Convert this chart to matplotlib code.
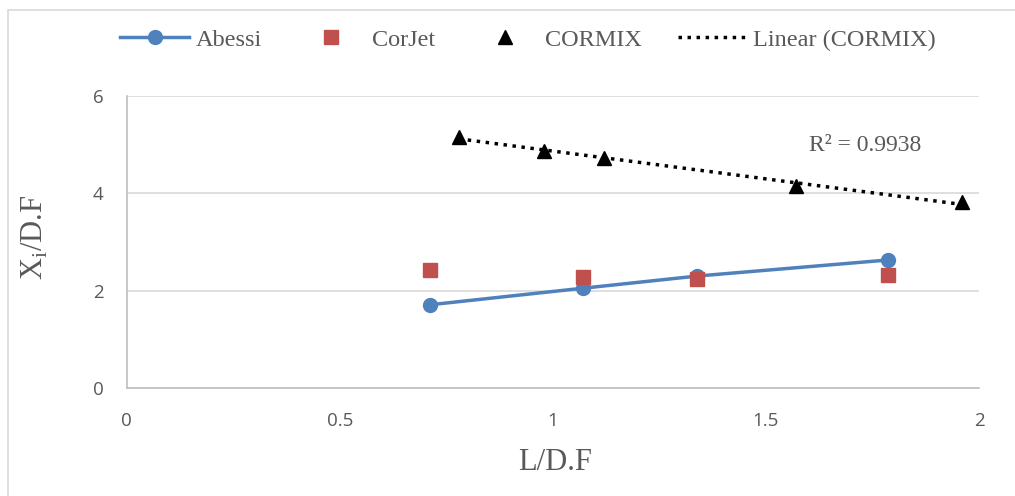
import numpy as np
import matplotlib.pyplot as plt
from matplotlib.lines import Line2D
from matplotlib.patches import Rectangle

# data
abessi_x = [0.711, 1.070, 1.338, 1.786]
abessi_y = [1.71, 2.05, 2.30, 2.63]
corjet_x = [0.711, 1.070, 1.338, 1.786]
corjet_y = [2.42, 2.28, 2.24, 2.32]
cormix_x = [0.779, 0.979, 1.120, 1.570, 1.960]
cormix_y = [5.16, 4.87, 4.73, 4.15, 3.82]
r2_text = "R² = 0.9938"

gray = "#595959"
serif = ["Liberation Serif", "DejaVu Serif"]

fig = plt.figure(figsize=(10.15, 4.96), dpi=100)
fig.patches.append(Rectangle((0.008, -0.02), 1.1, 1.0, transform=fig.transFigure,
                             fill=False, edgecolor="#d9d9d9", linewidth=1.2))
ax = fig.add_axes([0.125, 0.2177, 0.8395, 0.5888])

ax.plot(abessi_x, abessi_y, color="#4f81bd", linewidth=2.5, marker="o",
        markersize=10, zorder=3)
ax.plot(corjet_x, corjet_y, linestyle="none", marker="s", color="#c0504d",
        markersize=10, zorder=3)
ax.plot(cormix_x, cormix_y, linestyle="none", marker="^", color="black",
        markersize=10, zorder=4)

# linear trendline for CORMIX
k, b = np.polyfit(cormix_x, cormix_y, 1)
tx = np.array([min(cormix_x), max(cormix_x)])
ax.plot(tx, k * tx + b, color="black", linestyle=(0, (1, 1.6)), linewidth=2.5, zorder=2)
ax.text(1.60, 4.98, r2_text, fontsize=17, color=gray, family=serif, va="center")

ax.set_xlim(0, 2)
ax.set_ylim(0, 6)
ax.set_xticks([0, 0.5, 1, 1.5, 2])
ax.set_xticklabels(["0", "0.5", "1", "1.5", "2"])
ax.set_yticks([0, 2, 4, 6])
ax.grid(axis="y", color="#d9d9d9", linewidth=1.2)
ax.set_axisbelow(True)
for s in ["top", "right"]:
    ax.spines[s].set_visible(False)
for s in ["left", "bottom"]:
    ax.spines[s].set_color("#bfbfbf")
    ax.spines[s].set_linewidth(1.2)
ax.tick_params(length=0, labelsize=13.5, colors=gray, pad=17)
for lab in ax.get_xticklabels() + ax.get_yticklabels():
    lab.set_family(["Open Sans", "DejaVu Sans"])

fig.text(555 / 1015, 1 - 462 / 496, "L/D.F", fontsize=22, color=gray,
         family=serif, ha="center", va="center")
fig.text(35 / 1015, 1 - 237 / 496, "X$_\\mathregular{i}$/D.F", fontsize=22,
         color=gray, family=serif, ha="center", va="center", rotation=90)

handles = [
    Line2D([], [], color="#4f81bd", linewidth=2.5, marker="o", markersize=10),
    Line2D([], [], color="#c0504d", linestyle="none", marker="s", markersize=10),
    Line2D([], [], color="black", linestyle="none", marker="^", markersize=10),
    Line2D([], [], color="black", linestyle=(0, (1, 1.6)), linewidth=2.5),
]
fig.legend(handles, ["Abessi", "CorJet", "CORMIX", "Linear (CORMIX)"],
           loc="center", bbox_to_anchor=(0.52, 0.92), ncol=4, frameon=False,
           prop={"family": serif, "size": 17.5}, labelcolor=gray,
           handlelength=2.84, handletextpad=0.25, columnspacing=1.45)

fig.savefig("out.png", dpi=100)
